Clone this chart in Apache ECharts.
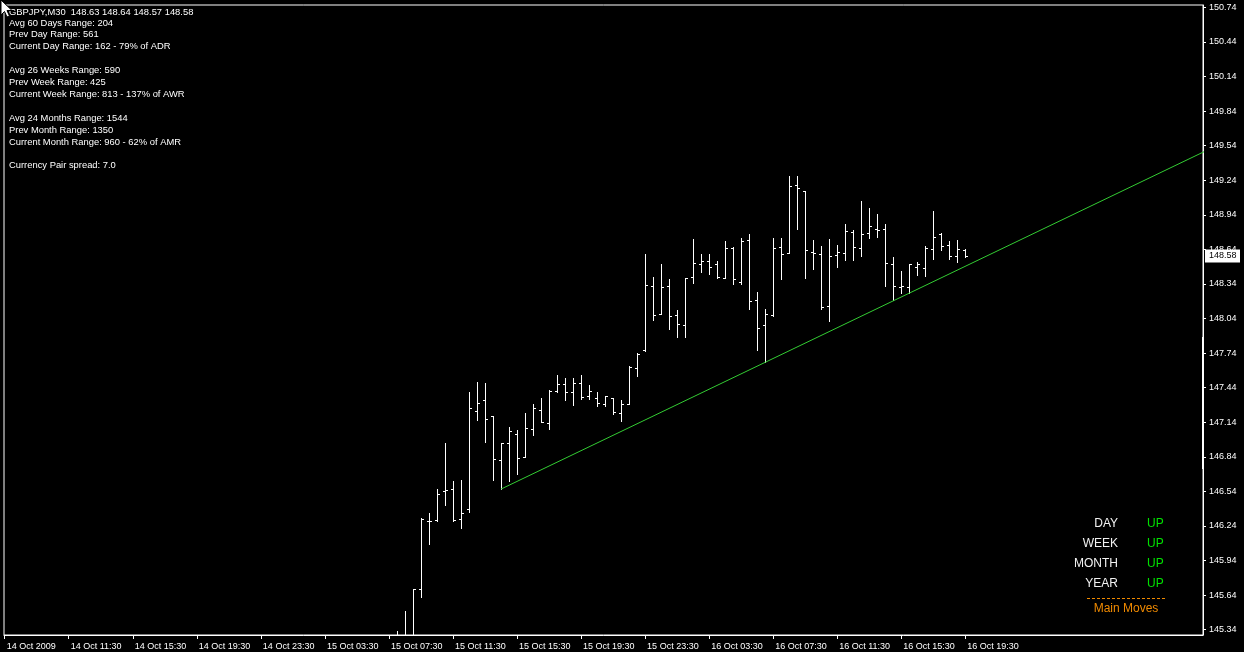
<!DOCTYPE html>
<html>
<head>
<meta charset="utf-8">
<script src="https://cdn.jsdelivr.net/npm/echarts@6/dist/echarts.min.js"></script>
<style>
html,body{margin:0;padding:0;background:#000;}
#chart{width:1244px;height:652px;}
</style>
</head>
<body>
<div id="chart"></div>
<script>
// ---- data (GBPJPY M30 bars; index 0 = 14 Oct 2009 07:30) ----
const firstBar = 49;
const opens  = [145.18,145.25,145.22,145.69,146.28,146.29,146.54,146.56,146.30,146.39,147.24,147.33,147.19,146.81,146.96,147.04,146.84,147.08,147.25,147.13,147.41,147.47,147.40,147.48,147.37,147.35,147.30,147.35,147.22,147.30,147.61,147.77,148.32,148.08,148.32,148.07,147.98,148.40,148.51,148.54,148.51,148.39,148.65,148.36,148.72,148.20,147.98,148.07,148.66,148.61,149.20,149.15,148.62,148.60,148.15,148.59,148.61,148.79,148.65,148.78,148.82,148.82,148.51,148.31,148.31,148.49,148.48,148.64,148.77,148.68,148.58,148.63];
const highs  = [145.33,145.50,145.69,146.31,146.35,146.56,146.96,146.63,146.64,147.40,147.49,147.48,147.19,146.96,147.10,147.07,147.22,147.30,147.35,147.42,147.55,147.52,147.52,147.55,147.46,147.40,147.37,147.35,147.33,147.63,147.74,148.60,148.40,148.51,148.38,148.11,148.39,148.73,148.60,148.60,148.54,148.71,148.66,148.74,148.77,148.27,148.12,148.74,148.74,149.28,149.28,149.15,148.72,148.67,148.73,148.68,148.86,148.81,149.06,149.00,148.95,148.86,148.57,148.45,148.51,148.53,148.67,148.97,148.78,148.71,148.72,148.64];
const lows   = [145.10,145.15,145.18,145.62,146.08,146.28,146.42,146.28,146.22,146.36,147.16,146.97,146.64,146.56,146.63,146.69,146.84,147.03,147.14,147.08,147.40,147.33,147.29,147.34,147.34,147.28,147.28,147.21,147.15,147.30,147.54,147.76,148.03,148.08,147.95,147.88,147.88,148.35,148.44,148.43,148.39,148.39,148.34,148.34,148.12,147.77,147.66,148.06,148.38,148.61,148.82,148.39,148.47,148.12,148.02,148.49,148.55,148.55,148.58,148.74,148.75,148.32,148.20,148.26,148.26,148.42,148.41,148.56,148.63,148.56,148.53,148.57];
const closes = [145.25,145.22,145.69,146.30,146.28,146.52,146.55,146.29,146.35,147.26,147.31,147.17,146.82,146.96,147.06,146.83,147.09,147.26,147.14,147.41,147.47,147.40,147.48,147.36,147.41,147.31,147.37,147.23,147.30,147.62,147.73,148.33,148.07,148.31,148.06,147.99,148.39,148.52,148.54,148.49,148.40,148.65,148.38,148.71,148.19,147.96,148.08,148.65,148.60,149.19,149.17,148.63,148.61,148.14,148.58,148.62,148.80,148.66,148.77,148.84,148.81,148.52,148.32,148.32,148.51,148.51,148.65,148.75,148.67,148.58,148.64,148.58];
// trendline through lows (bar index, price)
const trendX = [62, 150];
const trendY = [146.56, 149.493];
// axis ticks
const xTickBars = [0,8,16,24,32,40,48,56,64,72,80,88,96,104,112,120];
const xTickLabels = ['14 Oct 2009','14 Oct 11:30','14 Oct 15:30','14 Oct 19:30','14 Oct 23:30','15 Oct 03:30','15 Oct 07:30','15 Oct 11:30','15 Oct 15:30','15 Oct 19:30','15 Oct 23:30','16 Oct 03:30','16 Oct 07:30','16 Oct 11:30','16 Oct 15:30','16 Oct 19:30'];
const yTickValues = [145.34,145.64,145.94,146.24,146.54,146.84,147.14,147.44,147.74,148.04,148.34,148.64,148.94,149.24,149.54,149.84,150.14,150.44,150.74];
// text panels
const infoLines = [
  'GBPJPY,M30  148.63 148.64 148.57 148.58',
  'Avg 60 Days Range: 204',
  'Prev Day Range: 561',
  'Current Day Range: 162 - 79% of ADR',
  '',
  'Avg 26 Weeks Range: 590',
  'Prev Week Range: 425',
  'Current Week Range: 813 - 137% of AWR',
  '',
  'Avg 24 Months Range: 1544',
  'Prev Month Range: 1350',
  'Current Month Range: 960 - 62% of AMR',
  '',
  'Currency Pair spread: 7.0'
];
const moveNames = ['DAY','WEEK','MONTH','YEAR'];
const moveStates = ['UP','UP','UP','UP'];
const movesTitle = 'Main Moves';

// ---- build ----
const ohlc = opens.map((o,k)=>[firstBar+k, o, highs[k], lows[k], closes[k]]);
const trendData = trendX.map((x,k)=>[x, trendY[k]]);
const FONT = '"Liberation Sans", Arial, sans-serif';

const chart = echarts.init(document.getElementById('chart'), null, {renderer:'canvas'});

function renderBar(params, api){
  const x = api.value(0);
  const pO = api.coord([x, api.value(1)]);
  const pH = api.coord([x, api.value(2)]);
  const pL = api.coord([x, api.value(3)]);
  const pC = api.coord([x, api.value(4)]);
  const cx = Math.round(pH[0]) + 0.5;
  const yo = Math.round(pO[1]) + 0.5, yc = Math.round(pC[1]) + 0.5;
  const st = {stroke:'#ffffff', lineWidth:1};
  return {type:'group', children:[
    {type:'line', shape:{x1:cx, y1:Math.round(pH[1]), x2:cx, y2:Math.round(pL[1])+1}, style:st},
    {type:'line', shape:{x1:cx-2.5, y1:yo, x2:cx-0.5, y2:yo}, style:st},
    {type:'line', shape:{x1:cx+0.5, y1:yc, x2:cx+2.5, y2:yc}, style:st}
  ]};
}

const graphics = [];
infoLines.forEach((t,k)=>{
  if(!t) return;
  graphics.push({type:'text', x:9, y:(k===0?12.5:23+11.9*(k-1)),
    style:{text:t, fill:'#ffffff', font:'9.4px '+FONT, textVerticalAlign:'middle', textAlign:'left'}, silent:true, z:10});
});
moveNames.forEach((n,k)=>{
  const y = 523.5 + 20*k;
  graphics.push({type:'text', x:1118, y:y, style:{text:n, fill:'#f2f2f2', font:'12px '+FONT, textAlign:'right', textVerticalAlign:'middle'}, silent:true, z:10});
  graphics.push({type:'text', x:1147, y:y, style:{text:moveStates[k], fill:'#00e000', font:'12px '+FONT, textAlign:'left', textVerticalAlign:'middle'}, silent:true, z:10});
});
graphics.push({type:'line', shape:{x1:1087, y1:598.5, x2:1166, y2:598.5}, style:{stroke:'#f08a00', lineWidth:1, lineDash:[3,2]}, silent:true, z:10});
graphics.push({type:'text', x:1126, y:608.5, style:{text:movesTitle, fill:'#f08a00', font:'12px '+FONT, textAlign:'center', textVerticalAlign:'middle'}, silent:true, z:10});
// scroll marker on right border
graphics.push({type:'rect', shape:{x:1202, y:337, width:2, height:132}, style:{fill:'#ffffff'}, silent:true, z:10});
// mouse cursor
graphics.push({type:'polygon', shape:{points:[[1,0],[1,15],[4.5,11.5],[7,17],[9.5,16],[7,10.5],[12,10.5]]}, style:{fill:'#ffffff', stroke:'#000000', lineWidth:1}, silent:true, z:20});

const option = {
  animation:false,
  backgroundColor:'#000000',
  grid:{left:4, right:41, top:5, bottom:17, show:true, borderColor:'#ffffff', borderWidth:1, backgroundColor:'transparent'},
  xAxis:{
    type:'value', min:-0.087, max:149.69,
    axisLine:{show:true, onZero:false, lineStyle:{color:'#ffffff', width:1}},
    axisTick:{show:true, inside:false, length:4, customValues:xTickBars, lineStyle:{color:'#ffffff'}},
    axisLabel:{show:true, customValues:xTickBars, color:'#ffffff', fontSize:9, fontFamily:FONT, align:'left', margin:7, padding:[0,0,0,2],
      formatter:(v)=>{const i=xTickBars.indexOf(Math.round(v)); return i>=0?xTickLabels[i]:'';}},
    splitLine:{show:false}
  },
  yAxis:{
    type:'value', position:'right', min:145.294, max:150.760, scale:true,
    axisLine:{show:true, onZero:false, lineStyle:{color:'#ffffff', width:1}},
    axisTick:{show:true, inside:false, length:3, customValues:yTickValues, lineStyle:{color:'#ffffff'}},
    axisLabel:{show:true, customValues:yTickValues, color:'#ffffff', fontSize:9, fontFamily:FONT, margin:6,
      formatter:(v)=>Number(v).toFixed(2)},
    splitLine:{show:false}
  },
  series:[
    {type:'custom', name:'GBPJPY', renderItem:renderBar, data:ohlc, clip:true, silent:true,
      encode:{x:0, y:[1,2,3,4]}},
    {type:'line', name:'trend', data:trendData, showSymbol:false, symbol:'none', clip:true, silent:true,
      lineStyle:{color:'#33cc33', width:1}}
  ],
  graphic:graphics
};
chart.setOption(option);

// last-price label on price axis
const lastClose = closes[closes.length-1];
const py = chart.convertToPixel({yAxisIndex:0}, lastClose);
chart.setOption({graphic:graphics.concat([
  {type:'rect', shape:{x:1205, y:Math.round(py)-6.5, width:35, height:13}, style:{fill:'#ffffff'}, silent:true, z:30},
  {type:'text', x:1209, y:Math.round(py), style:{text:lastClose.toFixed(2), fill:'#000000', font:'9px '+FONT, textVerticalAlign:'middle', textAlign:'left'}, silent:true, z:31}
])});
</script>
</body>
</html>
